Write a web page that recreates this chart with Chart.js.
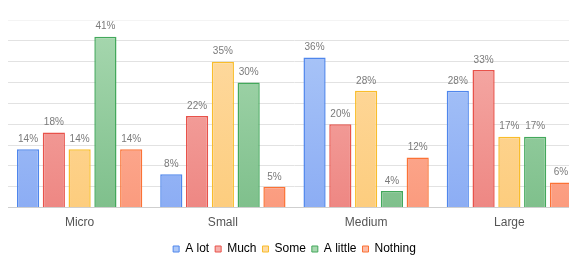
<!DOCTYPE html>
<html><head><meta charset="utf-8">
<script src="https://cdn.jsdelivr.net/npm/chart.js@4/dist/chart.umd.min.js"></script>
<style>
html,body{margin:0;padding:0;background:#fff;overflow:hidden;}
#wrap{width:569px;height:256px;overflow:hidden;position:relative;}
#box{width:581px;height:265px;position:absolute;left:0;top:0;}
</style></head><body>
<div id="wrap"><div id="box"><canvas id="c"></canvas></div></div>
<script>
const categories = ["Micro", "Small", "Medium", "Large"];
const seriesNames = ["A lot", "Much", "Some", "A little", "Nothing"];
const aLot    = [14, 8, 36, 28];
const much    = [18, 22, 20, 33];
const some    = [14, 35, 28, 17];
const aLittle = [41, 30, 4, 17];
const nothing = [14, 5, 12, 6];
const yTicks = [0, 5, 10, 15, 20, 25, 30, 35, 40, 45];

const seriesValues = [aLot, much, some, aLittle, nothing];
const borders = ["#4f86ec", "#e8524a", "#f9bd2b", "#43a85b", "#fb7235"];
const tops    = ["#adc8f8", "#f6b0ac", "#fedba4", "#a8d8b0", "#fdbba6"];
const bottoms = ["#8cadf4", "#ee8783", "#fdcd7e", "#7fc08c", "#fb9b7e"];

function grad(ctx, i){
  const ch = ctx.chart, a = ch.chartArea;
  if(!a) return tops[i];
  const g = ch.ctx.createLinearGradient(0, a.top, 0, a.bottom);
  g.addColorStop(0, tops[i]); g.addColorStop(1, bottoms[i]);
  return g;
}

const datasets = seriesNames.map((n, i) => ({
  label: n,
  data: seriesValues[i],
  backgroundColor: (ctx) => grad(ctx, i),
  borderColor: borders[i],
  borderWidth: 1.5,
  categoryPercentage: 0.9,
  barPercentage: 0.86
}));

const valueLabels = {
  id: 'valueLabels',
  afterDatasetsDraw(chart){
    const ctx = chart.ctx;
    ctx.save();
    ctx.font = '10px "Liberation Sans", Arial, sans-serif';
    ctx.fillStyle = '#7a7a7a';
    ctx.textAlign = 'center';
    ctx.textBaseline = 'bottom';
    chart.data.datasets.forEach((ds, di) => {
      chart.getDatasetMeta(di).data.forEach((bar, j) => {
        ctx.fillText(ds.data[j] + '%', bar.x, bar.y - 5);
      });
    });
    ctx.restore();
  }
};

new Chart(document.getElementById('c'), {
  type: 'bar',
  data: { labels: categories, datasets },
  options: {
    responsive: true,
    maintainAspectRatio: false,
    animation: false,
    layout: { padding: { left: 8, right: 0, top: 20, bottom: 0 } },
    plugins: {
      legend: {
        position: 'bottom',
        labels: {
          boxWidth: 6, boxHeight: 6, padding: 6,
          color: '#555',
          font: { family: '"Liberation Sans", Arial, sans-serif', size: 12 },
          generateLabels(chart){
            return seriesNames.map((n, i) => ({
              text: n, fillStyle: tops[i], strokeStyle: borders[i], lineWidth: 1,
              datasetIndex: i, hidden: false
            }));
          }
        }
      },
      tooltip: { enabled: false }
    },
    scales: {
      x: {
        grid: { display: false },
        border: { display: true, color: '#cfcfcf', width: 1 },
        ticks: { color: '#555', font: { family: '"Liberation Sans", Arial, sans-serif', size: 12 }, padding: 0 },
        afterFit(scale){ scale.height += 7; }
      },
      y: {
        min: 0, max: 45,
        afterBuildTicks(axis){ axis.ticks = yTicks.map(v => ({ value: v })); },
        ticks: { display: false },
        border: { display: false },
        grid: { color: (c) => c.index === yTicks.length - 1 ? '#f4f4f4' : '#e2e2e2', lineWidth: 1, drawTicks: false }
      }
    }
  },
  plugins: [valueLabels]
});
</script>
</body></html>
